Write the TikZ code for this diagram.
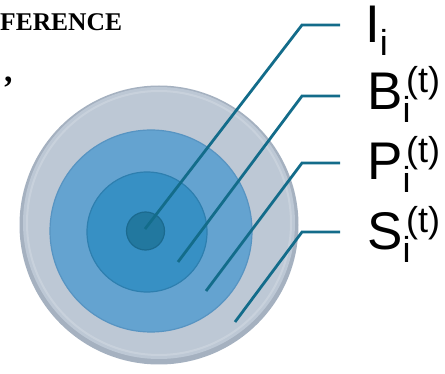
\documentclass[tikz,border=0pt]{standalone}
\usepackage{fontspec}
\setmainfont{Liberation Sans}
\newfontfamily\serifbold{Liberation Serif}
\definecolor{ringS}{HTML}{BDC8D5}
\definecolor{ringSrim}{HTML}{A5B1C0}
\definecolor{ringP}{HTML}{64A3D0}
\definecolor{ringPrim}{HTML}{5794C2}
\definecolor{ringB}{HTML}{3790C4}
\definecolor{ringBrim}{HTML}{2E7FAF}
\definecolor{ringI}{HTML}{22789F}
\definecolor{ringIrim}{HTML}{1B6A8F}
\definecolor{leader}{HTML}{136C8A}
\newcommand\mainfs{\fontsize{53}{53}\selectfont}
\newcommand\subfs{\fontsize{36}{36}\selectfont}
\newcommand\lblsub[1]{\raisebox{-13pt}{\subfs #1}}
\newcommand\lblsubsup[2]{\makebox[0pt][l]{\raisebox{-13pt}{\subfs #1}}\hspace{3.5pt}\raisebox{17pt}{\subfs #2}}
\tikzset{
  ring/.style={line width=1.2pt},
  leaderline/.style={draw=leader, line width=2.8pt, line join=miter},
  lbl/.style={anchor=base west, inner sep=0pt, font=\mainfs},
  frag/.style={anchor=base west, inner sep=0pt}
}
\begin{document}
\begin{tikzpicture}[x=1pt,y=-1pt]
\useasboundingbox (0,0) rectangle (445,374);
% fragments of surrounding page text
\node[frag, font=\serifbold\bfseries\fontsize{25.5}{25.5}\selectfont] (frag1) at (0,31) {FERENCE};
\node[frag, font=\serifbold\bfseries\itshape\fontsize{34}{34}\selectfont] (frag2) at (1,100) {’};
% rings
\fill[ringSrim] (159,225) circle (139.5);
\fill[ringS] (159,223) circle (136);
\draw[white, opacity=0.18, line width=2pt] (159,223) circle (132);
\draw[ring, draw=ringPrim, fill=ringP] (151,231) circle (101);
\draw[ring, draw=ringBrim, fill=ringB] (147,232) circle (60);
\draw[ring, draw=ringIrim, fill=ringI] (145.5,231) circle (19);
% anchor coordinates
\coordinate (Ie) at (145,229);
\coordinate (Ik) at (302,25);
\coordinate (Ih) at (340,25);
\coordinate (Be) at (178,262);
\coordinate (Bk) at (302,96);
\coordinate (Bh) at (340,96);
\coordinate (Pe) at (206,291);
\coordinate (Pk) at (302,163);
\coordinate (Ph) at (340,163);
\coordinate (Se) at (235,322);
\coordinate (Sk) at (302,232);
\coordinate (Sh) at (340,232);
% labels
\node[lbl] (lI) at (365,43) {I\lblsub{i}};
\node[lbl] (lB) at (367,110) {B\lblsubsup{i}{(t)}};
\node[lbl] (lP) at (367,180) {P\lblsubsup{i}{(t)}};
\node[lbl] (lS) at (367,250) {S\lblsubsup{i}{(t)}};
% leaders
\draw[leaderline] (Ie) -- (Ik) -- (Ih);
\draw[leaderline] (Be) -- (Bk) -- (Bh);
\draw[leaderline] (Pe) -- (Pk) -- (Ph);
\draw[leaderline] (Se) -- (Sk) -- (Sh);
\end{tikzpicture}
\end{document}
